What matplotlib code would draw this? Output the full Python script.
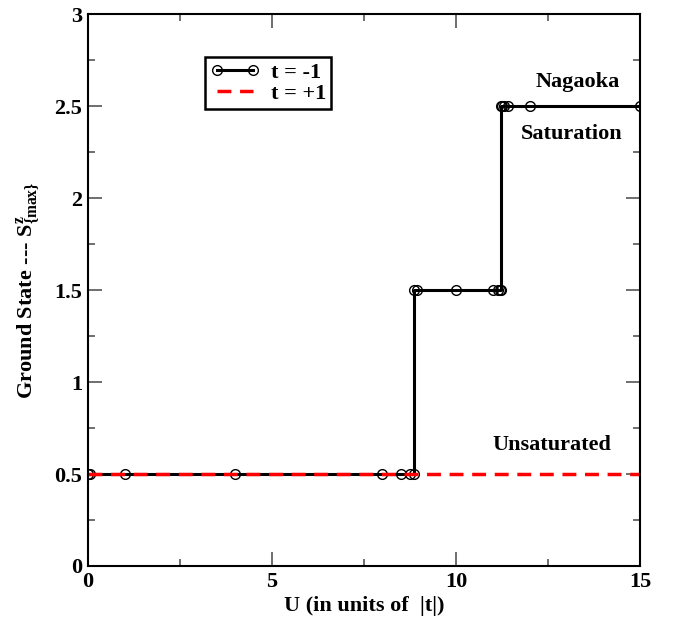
import numpy as np
import matplotlib.pyplot as plt
from matplotlib.ticker import MultipleLocator

plt.rcParams['font.family'] = 'Liberation Serif'
plt.rcParams['font.weight'] = 'bold'
plt.rcParams['mathtext.fontset'] = 'custom'
plt.rcParams['mathtext.rm'] = 'Liberation Serif:bold'
plt.rcParams['mathtext.it'] = 'Liberation Serif:bold'
plt.rcParams['mathtext.bf'] = 'Liberation Serif:bold'

# t = -1 ground state spin vs U
u_neg = [0, 0.05, 1, 4, 8, 8.5, 8.75, 8.85, 8.85, 8.95, 10, 11, 11.15, 11.2,
         11.22, 11.22, 11.25, 11.3, 11.4, 12, 15]
s_neg = [0.5, 0.5, 0.5, 0.5, 0.5, 0.5, 0.5, 0.5, 1.5, 1.5, 1.5, 1.5, 1.5, 1.5,
         1.5, 2.5, 2.5, 2.5, 2.5, 2.5, 2.5]
# t = +1
u_pos = [0, 15]
s_pos = [0.5, 0.5]

fig = plt.figure(figsize=(6.75, 6.2), dpi=100)
ax = fig.add_axes([0.1304, 0.0871, 0.8178, 0.8903])

ax.plot(u_neg, s_neg, color='black', lw=2.2, marker='o', ms=7,
        mfc='none', mec='black', mew=1.0, label='t = -1')
ax.plot(u_pos, s_pos, color='red', lw=2.5, ls=(0, (4, 2.5)), label='t = +1')

ax.set_xlim(0, 15)
ax.set_ylim(0, 3)
ax.xaxis.set_major_locator(MultipleLocator(5))
ax.xaxis.set_minor_locator(MultipleLocator(2.5))
ax.yaxis.set_major_locator(MultipleLocator(0.5))
ax.yaxis.set_minor_locator(MultipleLocator(0.25))
ax.set_yticks([0, 0.5, 1, 1.5, 2, 2.5, 3])
ax.set_yticklabels(['0', '0.5', '1', '1.5', '2', '2.5', '3'])
ax.tick_params(which='both', direction='in', top=True, right=True, labelsize=16,
               color='#555555')
ax.tick_params(which='major', length=10, width=1.2, pad=4)
ax.tick_params(which='minor', length=5, width=1.2)
for sp in ax.spines.values():
    sp.set_linewidth(1.5)

ax.set_xlabel('U (in units of  |t|)', fontsize=16, fontweight='bold', labelpad=3)
ax.set_ylabel(r'Ground State --- S$^{z}_{\{\mathrm{max}\}}$', fontsize=16,
              fontweight='bold', labelpad=9)

ax.text(13.3, 2.63, 'Nagaoka', fontsize=16, fontweight='bold', ha='center', va='center')
ax.text(13.15, 2.35, 'Saturation', fontsize=16, fontweight='bold', ha='center', va='center')
ax.text(12.6, 0.66, 'Unsaturated', fontsize=16, fontweight='bold', ha='center', va='center')

leg = ax.legend(loc='upper left', bbox_to_anchor=(0.212, 0.922), borderaxespad=0,
                fontsize=16, fancybox=False, framealpha=1, edgecolor='black',
                numpoints=2, handlelength=2.2, handletextpad=0.5, borderpad=0.25,
                labelspacing=0.0)
leg.get_frame().set_linewidth(1.8)

fig.savefig('out.png', dpi=100)
